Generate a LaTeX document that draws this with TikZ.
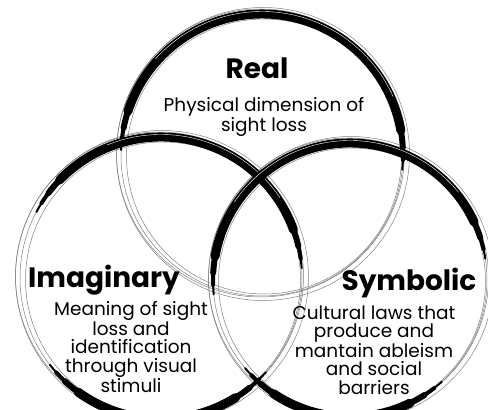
\documentclass[tikz,border=0pt]{standalone}
\usepackage{fontspec}
\setmainfont{Poppins}
\tikzset{
  sketch/.style={draw=black!50, line width=0.5pt},
  heading/.style={font=\bfseries\fontsize{28}{32}\selectfont, inner sep=0pt},
  blurb/.style={align=center, font=\fontsize{18.5}{18.5}\selectfont, inner sep=0pt},
}
% tapered brush stroke along a circle: centre, radius, start, end
\newcommand{\brusharc}[4]{%
  \foreach \w/\d in {2/0, 4/4, 6/9, 9/16}
    \draw[line width=\w pt, line cap=round, shift={(#1)}]
      ({#3+\d}:#2) arc[start angle=#3+\d, end angle=#4-\d, radius=#2];
  % one light streak in the paint
  \draw[white, line width=0.4pt, shift={(#1)}]
    ({#3+30}:#2+2.5) arc[start angle=#3+30, end angle=#4-40, radius=#2+2.5];
}
% thin hand-drawn rings under the brush
\newcommand{\sketchring}[2]{%
  \foreach \dx/\dy/\dr in {0/0/0, 2/-1.5/-3.5, -1.5/2/3, 1/1/5.5}
    \draw[sketch, shift={(#1)}] (\dx,\dy) circle[radius=#2+\dr];
}

\begin{document}
\begin{tikzpicture}[x=1pt,y=1pt]
\useasboundingbox (0,0) rectangle (488,410);
\clip (0,0) rectangle (488,410);
% centres
\coordinate (R) at (262,255);
\coordinate (I) at (161,132);
\coordinate (S) at (350,130);
% draw circles
\sketchring{R}{141}
\sketchring{I}{141}
\sketchring{S}{137}
\brusharc{R}{141}{-6}{178}
\brusharc{I}{141}{4}{152}
\brusharc{I}{141}{218}{318}
\brusharc{S}{137}{9}{186}
\brusharc{S}{137}{220}{312}
% labels
\node[heading] (real) at (257,342) {Real};
\node[blurb, font=\fontsize{18.5}{20}\selectfont] (realtxt) at (264,293) {Physical dimension of\\sight loss};
\node[heading] (imag) at (104,130) {Imaginary};
\node[blurb] (imagtxt) at (131,63) {Meaning of sight\\loss and\\identification\\through visual\\stimuli};
\node[heading] (symb) at (409,127) {Symbolic};
\node[blurb] (symbtxt) at (374,60) {Cultural laws that\\produce and\\mantain ableism\\and social\\barriers};
\end{tikzpicture}
\end{document}
